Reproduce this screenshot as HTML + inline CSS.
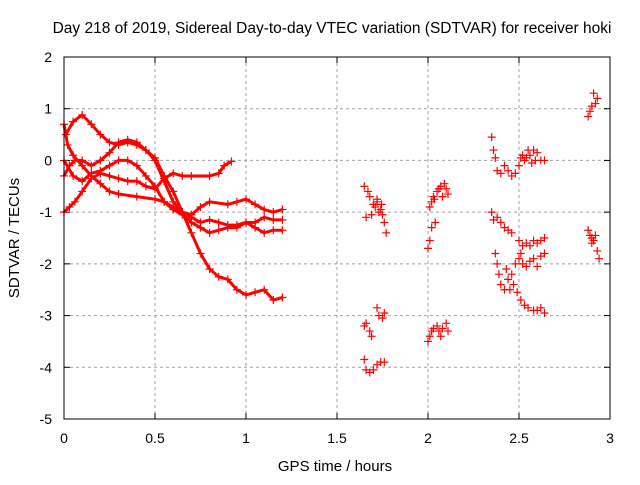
<!DOCTYPE html>
<html><head><meta charset="utf-8"><style>
body{margin:0;background:#fff}
svg{font-family:"Liberation Sans",sans-serif}
</style></head><body>
<svg id="c" width="640" height="480" xmlns="http://www.w3.org/2000/svg">
<rect width="640" height="480" fill="#fff"/>
<text x="332" y="33" font-size="15.5" text-anchor="middle">Day 218 of 2019, Sidereal Day-to-day VTEC variation (SDTVAR) for receiver hoki</text>
<text transform="translate(19,238) rotate(-90)" font-size="15" text-anchor="middle">SDTVAR / TECUs</text>
<text x="335" y="471" font-size="15" text-anchor="middle">GPS time / hours</text>
<g id="grid"></g><g id="marks"></g>
<rect x="64" y="57" width="546" height="362" fill="none" stroke="#000" stroke-width="1"/>
</svg>
<script>
const xTicks=[0,0.5,1,1.5,2,2.5,3];
const xTickLabels=["0","0.5","1","1.5","2","2.5","3"];
const yTicks=[2,1,0,-1,-2,-3,-4,-5];
const yTickLabels=["2","1","0","-1","-2","-3","-4","-5"];
const curveP=[[0.01,0.5],[0.05,0.75],[0.1,0.88],[0.15,0.7],[0.2,0.5],[0.25,0.35],[0.3,0.3],[0.35,0.35],[0.4,0.3],[0.45,0.2],[0.5,0.05],[0.55,-0.3],[0.6,-0.6],[0.65,-1.0],[0.7,-1.4],[0.75,-1.8],[0.8,-2.1],[0.85,-2.25],[0.9,-2.3],[0.95,-2.5],[1.0,-2.6],[1.05,-2.55],[1.1,-2.5],[1.15,-2.7],[1.2,-2.65]];
const curveQ=[[0.0,-1.0],[0.03,-0.9],[0.06,-0.8],[0.1,-0.6],[0.15,-0.35],[0.2,-0.25],[0.25,-0.3],[0.3,-0.35],[0.35,-0.4],[0.4,-0.4],[0.45,-0.5],[0.5,-0.55],[0.55,-0.35],[0.6,-0.25],[0.65,-0.3],[0.7,-0.3],[0.8,-0.3],[0.85,-0.25],[0.88,-0.1],[0.92,-0.02]];
const curveR=[[0.0,0.7],[0.02,0.3],[0.05,0.1],[0.1,-0.1],[0.15,-0.3],[0.2,-0.45],[0.25,-0.6],[0.3,-0.65],[0.4,-0.7],[0.5,-0.75],[0.55,-0.8],[0.6,-0.9],[0.65,-1.0],[0.7,-1.05],[0.75,-0.9],[0.8,-0.8],[0.9,-0.85],[0.95,-0.8],[1.0,-0.75],[1.05,-0.85],[1.1,-0.95],[1.15,-1.0],[1.2,-0.95]];
const curveS=[[0.0,-0.3],[0.03,-0.1],[0.06,0.0],[0.1,0.0],[0.15,-0.1],[0.2,0.0],[0.25,0.15],[0.3,0.35],[0.35,0.4],[0.4,0.35],[0.45,0.2],[0.5,0.0],[0.55,-0.4],[0.6,-0.8],[0.65,-1.0],[0.7,-1.2],[0.75,-1.3],[0.8,-1.4],[0.85,-1.35],[0.9,-1.3],[0.95,-1.3],[1.0,-1.2],[1.05,-1.2],[1.1,-1.1],[1.15,-1.15],[1.2,-1.15]];
const curveT=[[0.0,0.0],[0.05,-0.3],[0.1,-0.4],[0.15,-0.25],[0.2,-0.2],[0.25,-0.1],[0.3,0.0],[0.35,0.0],[0.4,-0.1],[0.45,-0.3],[0.5,-0.5],[0.55,-0.8],[0.6,-0.95],[0.65,-1.05],[0.7,-1.1],[0.75,-1.2],[0.8,-1.15],[0.85,-1.2],[0.9,-1.25],[0.95,-1.25],[1.0,-1.2],[1.05,-1.3],[1.1,-1.4],[1.15,-1.35],[1.2,-1.35]];
const scatterPts=[[1.65,-0.5],[1.67,-0.6],[1.68,-0.7],[1.7,-0.85],[1.71,-0.9],[1.72,-0.8],[1.73,-1.0],[1.74,-0.95],[1.75,-1.05],[1.76,-1.2],[1.77,-1.4],[1.66,-1.1],[1.69,-1.05],[1.72,-0.75],[1.745,-0.85],
[1.65,-3.2],[1.66,-3.15],[1.68,-3.3],[1.69,-3.4],[1.72,-2.85],[1.73,-3.0],[1.75,-3.05],[1.76,-2.95],[1.65,-3.85],[1.66,-4.05],[1.68,-4.1],[1.7,-4.05],[1.72,-3.95],[1.74,-3.9],[1.76,-3.9],
[2.0,-1.7],[2.01,-1.55],[2.01,-0.9],[2.02,-0.8],[2.03,-0.7],[2.04,-1.2],[2.05,-0.6],[2.06,-0.55],[2.07,-0.5],[2.08,-0.7],[2.09,-0.45],[2.1,-0.55],[2.11,-0.65],[2.02,-1.3],[2.035,-0.75],
[2.0,-3.5],[2.01,-3.4],[2.02,-3.3],[2.03,-3.25],[2.05,-3.2],[2.06,-3.3],[2.07,-3.4],[2.08,-3.25],[2.1,-3.15],[2.11,-3.3],
[2.35,0.45],[2.36,0.2],[2.37,0.05],[2.38,-0.2],[2.4,-0.25],[2.42,-0.1],[2.44,-0.2],[2.46,-0.3],[2.48,-0.25],[2.5,-0.1],[2.51,0.05],[2.52,0.1],[2.54,0.05],[2.55,0.2],[2.56,0.1],[2.58,0.2],[2.59,0.0],[2.6,0.15],[2.62,0.0],[2.64,0.0],[2.53,0.0],[2.57,-0.05],
[2.35,-1.0],[2.36,-1.15],[2.38,-1.1],[2.4,-1.2],[2.42,-1.3],[2.44,-1.35],[2.46,-1.4],[2.5,-1.55],[2.51,-1.8],[2.52,-1.65],[2.54,-1.6],[2.56,-1.65],[2.58,-1.55],[2.6,-1.6],[2.62,-1.55],[2.64,-1.5],
[2.37,-1.8],[2.38,-2.0],[2.39,-2.2],[2.4,-2.4],[2.42,-2.5],[2.44,-2.3],[2.46,-2.2],[2.48,-2.0],[2.5,-1.9],[2.52,-2.0],[2.54,-2.05],[2.56,-1.95],[2.58,-1.9],[2.6,-2.05],[2.62,-1.85],[2.64,-1.8],
[2.45,-2.5],[2.47,-2.4],[2.49,-2.55],[2.51,-2.7],[2.53,-2.8],[2.55,-2.85],[2.58,-2.9],[2.6,-2.9],[2.62,-2.85],[2.64,-2.95],[2.43,-2.1],
[2.88,0.85],[2.89,0.95],[2.9,1.05],[2.91,1.3],[2.92,1.1],[2.93,1.2],[2.88,-1.35],[2.89,-1.45],[2.9,-1.5],[2.91,-1.55],[2.92,-1.45],[2.93,-1.75],[2.94,-1.9],[2.9,-1.6]];

const X0=64,X1=610,Y0=419,Y1=57;
const xs=v=>X0+(v-0)/(3-0)*(X1-X0);
const ys=v=>Y0-(v-(-5))/(2-(-5))*(Y0-Y1);
const NS="http://www.w3.org/2000/svg";
const svg=document.getElementById('c'),grid=document.getElementById('grid'),marks=document.getElementById('marks');
function mk(tag,attrs,parent){const e=document.createElementNS(NS,tag);for(const k in attrs)e.setAttribute(k,attrs[k]);parent.appendChild(e);return e;}
xTicks.forEach((t,i)=>{const x=xs(t);
 if(i>0&&i<xTicks.length-1){const g=mk('line',{x1:x,x2:x,y1:Y1,y2:Y0,stroke:'#a0a0a0','stroke-dasharray':'3,3'},grid);}
 mk('line',{x1:x,x2:x,y1:Y0,y2:Y0-6,stroke:'#000'},grid);mk('line',{x1:x,x2:x,y1:Y1,y2:Y1+6,stroke:'#000'},grid);
 const tx=mk('text',{x:x,y:Y0+24,'font-size':14,'text-anchor':'middle'},svg);tx.textContent=xTickLabels[i];
 });
yTicks.forEach((t,i)=>{const y=ys(t);
 if(i>0&&i<yTicks.length-1){const g=mk('line',{x1:X0,x2:X1,y1:y,y2:y,stroke:'#a0a0a0','stroke-dasharray':'3,3'},grid);}
 mk('line',{x1:X0,x2:X0+6,y1:y,y2:y,stroke:'#000'},grid);mk('line',{x1:X1,x2:X1-6,y1:y,y2:y,stroke:'#000'},grid);
 const tx=mk('text',{x:52,y:y+5,'font-size':14,'text-anchor':'end'},svg);tx.textContent=yTickLabels[i];
 });
function plus(p){const x=xs(p[0]),y=ys(p[1]);const e=mk('path',{d:`M${x-4},${y}h8M${x},${y-4}v8`,stroke:'#f00','stroke-width':1.2,fill:'none'},marks);
 }
[curveP,curveQ,curveR,curveS,curveT].forEach(c=>{
 const pl=mk('polyline',{points:c.map(p=>xs(p[0])+','+ys(p[1])).join(' '),fill:'none',stroke:'#f00','stroke-width':3,'stroke-linejoin':'round'},marks);
 
 c.forEach(plus);});
scatterPts.forEach(plus);
</script>
</body></html>
